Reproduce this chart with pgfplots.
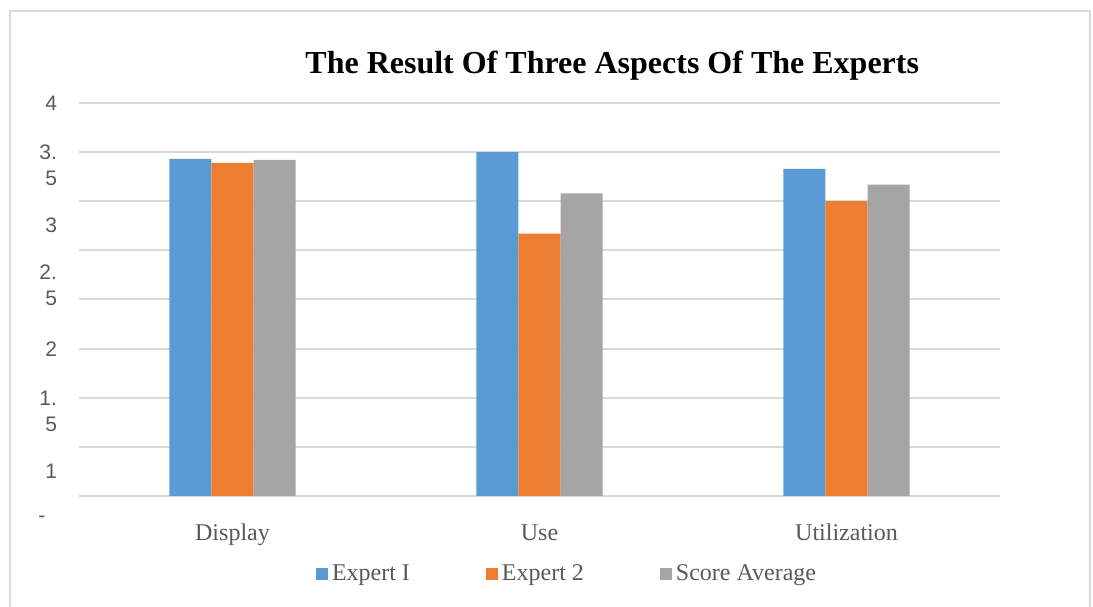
\documentclass[border=0pt]{standalone}
\usepackage{fontspec}
\setmainfont{Liberation Serif}
\newfontfamily\arial{Liberation Sans}
\usepackage{pgfplots}
\pgfplotsset{compat=1.18}
\definecolor{cE1}{HTML}{5B9BD5}
\definecolor{cE2}{HTML}{ED7D31}
\definecolor{cAv}{HTML}{A5A5A5}
\definecolor{gridc}{HTML}{D9D9D9}
\definecolor{txt}{HTML}{595959}
\begin{document}
\begin{tikzpicture}
\useasboundingbox (0,0) rectangle (546.5pt,303pt);
\draw[gridc, line width=1pt] (5pt,-2pt) -- (5pt,297.5pt) -- (545pt,297.5pt) -- (545pt,-2pt);
\begin{axis}[
  at={(39.5pt,42.72pt)}, anchor=south west,
  scale only axis, width=460.5pt, height=208.8pt,
  xmin=-0.5, xmax=2.5, ymin=-0.25, ymax=4,
  axis line style={draw=none},
  ybar=0pt, bar width=0.137,
  xtick={0,1,2}, xticklabels={Display,Use,Utilization},
  xtick style={draw=none},
  xticklabel style={font=\fontsize{12}{14}\selectfont, text=txt, anchor=base, yshift=-5.7pt},
  ytick={0,0.5,...,4}, yticklabels={},
  ymajorgrids, grid style={gridc, line width=1pt},
  ytick style={draw=none},
  yticklabel style={align=right, font=\arial\fontsize{10.5}{13}\selectfont, text=txt, xshift=-7.5pt},
  extra y ticks={4,3.369,2.758,2.148,1.496,0.865,0.254,-0.2},
  extra y tick labels={4,{3.\\5},3,{2.\\5},2,{1.\\5},1,{-\phantom{0}}},
  extra y tick style={grid=none},
  title={The Result Of Three Aspects Of The Experts},
  title style={font=\bfseries\fontsize{16}{19}\selectfont, at={(0.579,1)}, anchor=center, yshift=12.5pt},
  legend style={at={(0.531,0)}, anchor=center, yshift=-26.7pt, draw=none, fill=none,
    legend columns=3, font=\fontsize{12}{14}\selectfont, text=txt,
    /tikz/every even column/.append style={column sep=36pt}},
  legend image code/.code={\fill[#1] (0pt,-3pt) rectangle (6pt,3pt);},
]
\addplot[fill=cE1, draw=none] coordinates {(0,3.43) (1,3.50) (2,3.33)};
\addplot[fill=cE2, draw=none] coordinates {(0,3.39) (1,2.67) (2,3.00)};
\addplot[fill=cAv, draw=none] coordinates {(0,3.42) (1,3.08) (2,3.17)};
\legend{Expert I, Expert 2, Score Average}
\end{axis}
\end{tikzpicture}
\end{document}
